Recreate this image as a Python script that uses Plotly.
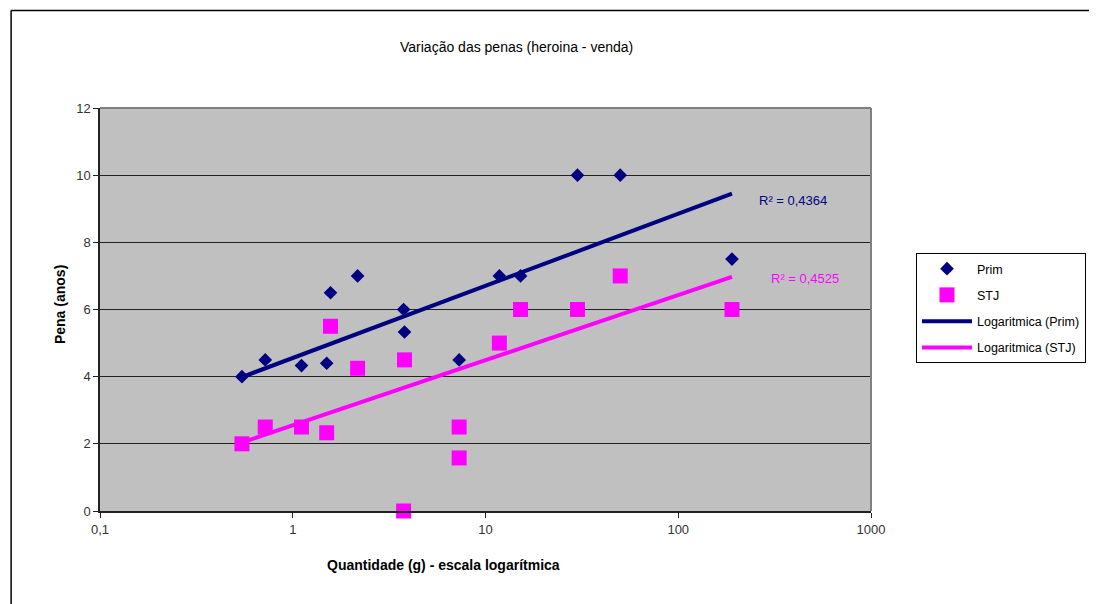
import numpy as np
import plotly.graph_objects as go

# ---- data ----
prim_x = [0.545, 0.72, 1.11, 1.5, 1.57, 2.17, 3.76, 3.8, 7.3, 11.8, 15.2, 30, 50, 190]
prim_y = [4.0, 4.5, 4.33, 4.4, 6.5, 7.0, 6.0, 5.33, 4.5, 7.0, 7.0, 10.0, 10.0, 7.5]
stj_x = [0.545, 0.72, 1.11, 1.5, 1.57, 2.17, 3.8, 3.76, 7.3, 7.3, 11.8, 15.2, 30, 50, 190]
stj_y = [2.0, 2.5, 2.5, 2.33, 5.5, 4.25, 4.5, 0.0, 2.5, 1.58, 5.0, 6.0, 6.0, 7.0, 6.0]
# logarithmic trendlines y = a*ln(x) + b, coefficients
prim_trend_coef = [0.933, 4.556]
stj_trend_coef = [0.842, 2.551]
r2_prim_label = "R² = 0,4364"
r2_stj_label = "R² = 0,4525"
x_tickvals = [0.1, 1, 10, 100, 1000]
x_ticktext = ["0,1", "1", "10", "100", "1000"]
y_tickvals = [0, 2, 4, 6, 8, 10, 12]

NAVY = "#000080"
MAG = "#FF00FF"
REG = "Liberation Sans, Arial, sans-serif"


def trend(xs, coef):
    xe = np.array([min(xs), max(xs)], float)
    return xe, coef[0] * np.log(xe) + coef[1]


pfx, pfy = trend(prim_x, prim_trend_coef)
sfx, sfy = trend(stj_x, stj_trend_coef)

fig = go.Figure()
fig.add_trace(go.Scatter(x=prim_x, y=prim_y, mode="markers", name="Prim",
                         marker=dict(symbol="diamond", size=10.5, color=NAVY),
                         cliponaxis=False, legendgroup="a"))
fig.add_trace(go.Scatter(x=stj_x, y=stj_y, mode="markers", name="STJ",
                         marker=dict(symbol="square", size=15, color=MAG),
                         cliponaxis=False, legendgroup="b"))
fig.add_trace(go.Scatter(x=pfx, y=pfy, mode="lines", name="Logaritmica (Prim)",
                         line=dict(color=NAVY, width=4), legendgroup="c"))
fig.add_trace(go.Scatter(x=sfx, y=sfy, mode="lines", name="Logaritmica (STJ)",
                         line=dict(color=MAG, width=4), legendgroup="d"))

OFF = 8  # page offset of the figure inside the window
W, H = 1097 - OFF, 604 - OFF
# plot area in window pixels: x 100..872, y 108..511
PL, PR, PT, PB = 100, 872, 108, 511
L, R, T, B = PL - OFF, W - (PR - OFF), PT - OFF, H - (PB - OFF)
pw, ph = PR - PL, PB - PT


def px(x):  # window x -> paper
    return (x - PL) / pw


def py(y):  # window y -> paper
    return (PB - y) / ph


fig.update_layout(
    width=W, height=H,
    margin=dict(l=L, r=R, t=T, b=B),
    paper_bgcolor="white", plot_bgcolor="#C0C0C0",
    showlegend=True,
    legend=dict(x=px(916), y=py(253), xanchor="left", yanchor="top",
                bordercolor="black", borderwidth=1, bgcolor="white",
                font=dict(family=REG, size=12.5, color="black"),
                tracegroupgap=7, itemwidth=50),
    xaxis=dict(type="log", range=[-1, 3], tickvals=x_tickvals, ticktext=x_ticktext,
               showgrid=False, zeroline=False, showline=True, linecolor="#222",
               linewidth=2, ticks="outside", ticklen=5, tickcolor="#222",
               tickfont=dict(family=REG, size=13, color="#333")),
    yaxis=dict(range=[0, 12], tickvals=y_tickvals, showgrid=True, gridcolor="#222",
               gridwidth=1, zeroline=False, showline=True, linecolor="#222",
               linewidth=1.5, ticks="outside", ticklen=5, tickcolor="#222",
               tickfont=dict(family=REG, size=13, color="#333")),
    font=dict(family=REG),
)

common = dict(xref="paper", yref="paper", showarrow=False, yanchor="middle")
fig.add_annotation(text="Variação das penas (heroina - venda)", x=px(517), y=py(47),
                   xanchor="center", font=dict(family=REG, size=14, color="black"), **common)
fig.add_annotation(text="<b>Quantidade (g) - escala logarítmica</b>", x=px(444), y=py(565),
                   xanchor="center", font=dict(family=REG, size=14, color="black"), **common)
fig.add_annotation(text="<b>Pena (anos)</b>", x=px(60), y=py(305), textangle=-90,
                   xanchor="center", font=dict(family=REG, size=14, color="black"), **common)
fig.add_annotation(text=r2_prim_label, x=px(758), y=py(200), xanchor="left",
                   font=dict(family=REG, size=13, color=NAVY), **common)
fig.add_annotation(text=r2_stj_label, x=px(770), y=py(278), xanchor="left",
                   font=dict(family=REG, size=13, color=MAG), **common)

# plot area top/right border (gray)
fig.add_shape(type="line", xref="paper", yref="paper", x0=0, x1=1, y0=1, y1=1,
              line=dict(color="#808080", width=2))
fig.add_shape(type="line", xref="paper", yref="paper", x0=1, x1=1, y0=0, y1=1,
              line=dict(color="#808080", width=2))
# outer chart frame (left and top edges visible)
fig.add_shape(type="line", xref="paper", yref="paper", x0=px(11), x1=px(1100),
              y0=py(10.5), y1=py(10.5), line=dict(color="black", width=1.5))
fig.add_shape(type="line", xref="paper", yref="paper", x0=px(11), x1=px(11),
              y0=py(10.5), y1=py(610), line=dict(color="black", width=1.5))

fig.write_html("out.html")
